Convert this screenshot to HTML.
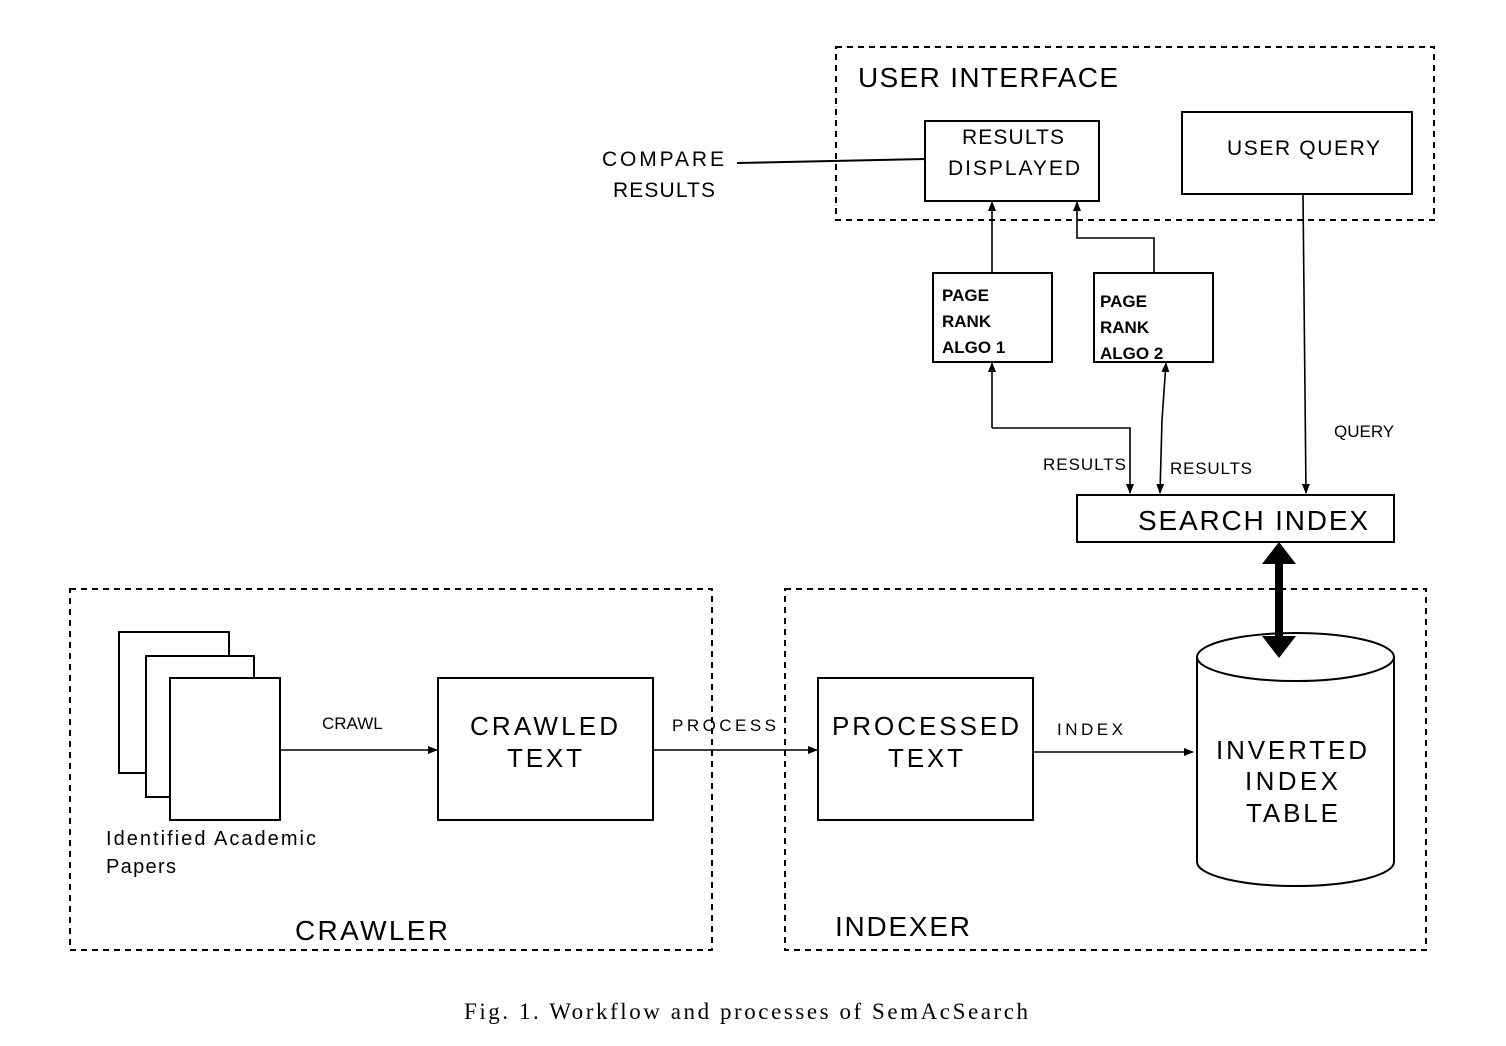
<!DOCTYPE html>
<html><head><meta charset="utf-8"><style>body{margin:0;background:#fff}svg{display:block}</style></head><body>
<svg width="1506" height="1046" viewBox="0 0 1506 1046" xmlns="http://www.w3.org/2000/svg" font-family="Liberation Sans, DejaVu Sans, sans-serif">
<defs><marker id="a" markerWidth="10" markerHeight="10" refX="9" refY="5" orient="auto" markerUnits="userSpaceOnUse"><path d="M0,1 L10,5 L0,9 z" fill="#000"/></marker></defs>
<g fill="none" stroke="#000" stroke-width="2">
<rect x="836" y="47" width="598" height="173" stroke-dasharray="6,5"/>
<rect x="70" y="589" width="642" height="361" stroke-dasharray="6,5"/>
<rect x="785" y="589" width="641" height="361" stroke-dasharray="6,5"/>
<rect x="925" y="121" width="174" height="80"/>
<rect x="1182" y="112" width="230" height="82"/>
<rect x="933" y="273" width="119" height="89"/>
<rect x="1094" y="273" width="119" height="89"/>
<rect x="1077" y="495" width="317" height="47"/>
<rect x="119" y="632" width="110" height="141" fill="#fff"/>
<rect x="146" y="656" width="108" height="141" fill="#fff"/>
<rect x="170" y="678" width="110" height="142" fill="#fff"/>
<rect x="438" y="678" width="215" height="142"/>
<rect x="818" y="678" width="215" height="142"/>
<path d="M1197,657 L1197,862 A98.5,24 0 0 0 1394,862 L1394,657"/>
<ellipse cx="1295.5" cy="657" rx="98.5" ry="24"/>
<line x1="737" y1="163" x2="925" y2="159"/>
<g stroke-width="1.6">
<line x1="992" y1="273" x2="992" y2="202" marker-end="url(#a)"/>
<polyline points="1154,273 1154,238 1077,238 1077,202" marker-end="url(#a)"/>
<line x1="992" y1="428" x2="992" y2="363" marker-end="url(#a)"/>
<polyline points="992,428 1130,428 1130,493" marker-end="url(#a)"/>
<line x1="1162" y1="420" x2="1166" y2="363" marker-end="url(#a)"/>
<line x1="1162" y1="420" x2="1160" y2="493" marker-end="url(#a)"/>
<line x1="1303" y1="194" x2="1306" y2="493" marker-end="url(#a)"/>
<line x1="280" y1="750" x2="437" y2="750" marker-end="url(#a)"/>
<line x1="653" y1="750" x2="817" y2="750" marker-end="url(#a)"/>
<line x1="1033" y1="752" x2="1193" y2="752" marker-end="url(#a)"/>
</g>
</g>
<line x1="1279" y1="560" x2="1279" y2="640" stroke="#000" stroke-width="8"/>
<path d="M1262,564 L1279,542 L1296,564 z M1262,636 L1279,658 L1296,636 z" fill="#000"/>
<g fill="#000" font-size="21">
<text x="858" y="87" font-size="28" textLength="260">USER INTERFACE</text>
<text x="962" y="144" textLength="102">RESULTS</text>
<text x="948" y="175" textLength="132">DISPLAYED</text>
<text x="1227" y="155" textLength="153">USER QUERY</text>
<text x="602" y="166" textLength="122">COMPARE</text>
<text x="613" y="197" textLength="102">RESULTS</text>
<g font-size="17" font-weight="bold">
<text x="942" y="301">PAGE</text><text x="942" y="327">RANK</text><text x="942" y="353">ALGO 1</text>
<text x="1100" y="307">PAGE</text><text x="1100" y="333">RANK</text><text x="1100" y="359">ALGO 2</text>
</g>
<g font-size="17">
<text x="1043" y="470" textLength="83">RESULTS</text>
<text x="1170" y="474" textLength="82">RESULTS</text>
<text x="1334" y="437">QUERY</text>
<text x="322" y="729">CRAWL</text>
<text x="672" y="731" textLength="104">PROCESS</text>
<text x="1057" y="735" textLength="66">INDEX</text>
</g>
<text x="1138" y="530" font-size="28" textLength="230">SEARCH INDEX</text>
<text x="106" y="845" font-size="20" textLength="210">Identified Academic</text>
<text x="106" y="873" font-size="20" textLength="70">Papers</text>
<g font-size="26">
<text x="470" y="735" textLength="148">CRAWLED</text><text x="507" y="767" textLength="75">TEXT</text>
<text x="832" y="735" textLength="187">PROCESSED</text><text x="888" y="767" textLength="75">TEXT</text>
<text x="1216" y="759" textLength="151">INVERTED</text><text x="1245" y="790" textLength="93">INDEX</text><text x="1246" y="822" textLength="92">TABLE</text>
</g>
<text x="295" y="940" font-size="28" textLength="153">CRAWLER</text>
<text x="835" y="936" font-size="28" textLength="135">INDEXER</text>
<text x="464" y="1019" font-size="23" font-family="Liberation Serif, serif" textLength="564">Fig. 1.  Workflow and processes of SemAcSearch</text>
</g>
</svg>
</body></html>
